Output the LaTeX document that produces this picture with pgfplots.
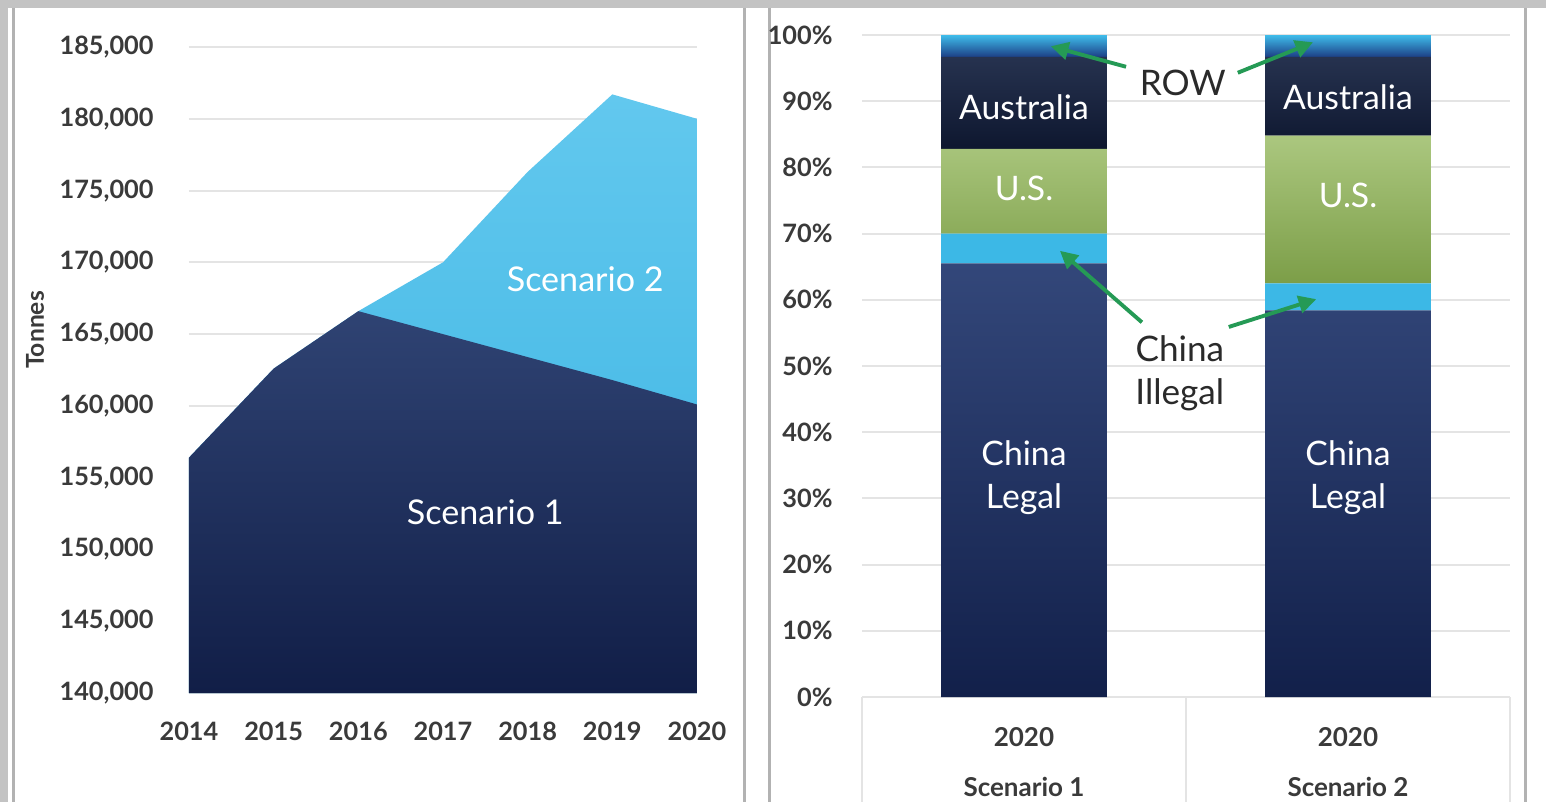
\documentclass[border=0pt]{standalone}
\usepackage{fontspec}
\setmainfont{Lato}
\usepackage{pgfplots}
\pgfplotsset{compat=1.18}
\usetikzlibrary{arrows.meta}

\definecolor{frame}{HTML}{C3C3C3}
\definecolor{edge}{HTML}{B2B2B2}
\definecolor{ticktxt}{HTML}{3A3A3A}
\definecolor{gridc}{HTML}{E4E4E4}
\definecolor{sonetop}{HTML}{2F4373}
\definecolor{sonebot}{HTML}{111E47}
\definecolor{stwotop}{HTML}{62C8EE}
\definecolor{stwobot}{HTML}{3AB3E2}
\definecolor{legaltop}{HTML}{33477A}
\definecolor{legalbot}{HTML}{12204A}
\definecolor{illegal}{HTML}{3CB8E6}
\definecolor{ustop}{HTML}{ABC77F}
\definecolor{usbot}{HTML}{7C9E48}
\definecolor{austop}{HTML}{26324F}
\definecolor{ausbot}{HTML}{0E172F}
\definecolor{rowtop}{HTML}{3FBCEA}
\definecolor{rowmid}{HTML}{2559AA}
\definecolor{rowbot}{HTML}{1C3F86}
\definecolor{arrowc}{HTML}{259A55}
\definecolor{notetxt}{HTML}{2A2A2A}

\begin{document}
\begin{tikzpicture}
% page background and the grey frame round the two panels
\fill[white] (0,0) rectangle (15.46,-8.02);
\fill[frame] (0,0) rectangle (15.46,-0.08);
\fill[frame] (0,0) rectangle (0.08,-8.02);
\foreach \x in {0.135,7.44,7.69,15.25}
  \draw[edge, line width=0.03cm] (\x,-0.08) -- (\x,-8.02);

% left panel: tonnes by scenario
\begin{axis}[at={(1.89cm,-6.93cm)}, anchor=south west, scale only axis,
  width=5.08cm, height=6.46cm,
  xmin=2014, xmax=2020, ymin=140000, ymax=185000,
  xtick={2014,2015,2016,2017,2018,2019,2020},
  ytick={140000,145000,150000,155000,160000,165000,170000,175000,180000,185000},
  scaled y ticks=false,
  /pgf/number format/assume math mode=true,
  xticklabel style={/pgf/number format/1000 sep={}, yshift=-0.17cm},
  yticklabel style={/pgf/number format/fixed, /pgf/number format/1000 sep={,}, xshift=-0.23cm},
  ticklabel style={font=\fontsize{7.2}{8}\selectfont\bfseries, text=ticktxt},
  axis line style={draw=none}, tick style={draw=none},
  ymajorgrids, grid style={gridc, line width=0.6pt},
  clip=false]
\addplot[draw=none, top color=stwotop, bottom color=stwobot] coordinates {
  (2014,140000) (2014,156400) (2015,162600) (2016,166600) (2017,170000)
  (2018,176300) (2019,181700) (2020,180000) (2020,140000)};
\addplot[draw=none, top color=sonetop, bottom color=sonebot] coordinates {
  (2014,140000) (2014,156400) (2015,162600) (2016,166600) (2017,165000)
  (2018,163400) (2019,161800) (2020,160100) (2020,140000)};
\node[white, font=\fontsize{9.7}{11}\selectfont] at (axis cs:2018.68,168800) {Scenario 2};
\node[white, font=\fontsize{9.7}{11}\selectfont] at (axis cs:2017.5,152600) {Scenario 1};
\end{axis}
\node[rotate=90, text=ticktxt, font=\fontsize{7}{8}\selectfont\bfseries] at (0.35,-3.30) {Tonnes};

% right panel: 2020 shares by origin
\begin{axis}[at={(8.62cm,-6.97cm)}, anchor=south west, scale only axis,
  width=6.48cm, height=6.62cm,
  ybar stacked, bar width=0.512,
  xmin=-0.5, xmax=1.5, ymin=0, ymax=100,
  xtick={0,1},
  xticklabels={{2020\\[5.2pt]Scenario 1},{2020\\[5.2pt]Scenario 2}},
  ytick={0,10,20,30,40,50,60,70,80,90,100},
  /pgf/number format/assume math mode=true,
  yticklabel={\pgfmathprintnumber{\tick}\%},
  yticklabel style={xshift=-0.17cm},
  xticklabel style={align=center, yshift=-0.18cm, font=\fontsize{7.4}{9}\selectfont\bfseries},
  ticklabel style={text=ticktxt},
  yticklabel style={font=\fontsize{7.2}{8}\selectfont\bfseries},
  axis line style={draw=none}, tick style={draw=none}, tick pos=left,
  extra x ticks={-0.5,0.5,1.5}, extra x tick labels={},
  extra x tick style={major tick length=1.05cm, tick align=outside,
    tick style={draw=gridc, line width=0.6pt}},
  ymajorgrids, grid style={gridc, line width=0.6pt},
  clip=false]
\addplot[draw=none, top color=legaltop, bottom color=legalbot] coordinates {(0,65.5) (1,58.4)};
\addplot[draw=none, fill=illegal] coordinates {(0,4.5) (1,4.1)};
\addplot[draw=none, top color=ustop, bottom color=usbot] coordinates {(0,12.8) (1,22.3)};
\addplot[draw=none, top color=austop, bottom color=ausbot] coordinates {(0,13.9) (1,11.9)};
\addplot[draw=none, top color=rowtop, middle color=rowmid, bottom color=rowbot] coordinates {(0,3.3) (1,3.3)};

% anchor points for the labels, drawn after the bars
\coordinate (aus1) at (axis cs:0,89.1);
\coordinate (aus2) at (axis cs:1,90.6);
\coordinate (us1) at (axis cs:0,76.9);
\coordinate (us2) at (axis cs:1,75.8);
\coordinate (leg1) at (axis cs:0,33.1);
\coordinate (leg2) at (axis cs:1,33.1);
\coordinate (row) at (axis cs:0.49,92.7);
\coordinate (ill) at (axis cs:0.481,48.9);
\coordinate (a1s) at (axis cs:0.315,95.2);
\coordinate (a1e) at (axis cs:0.083,98.3);
\coordinate (a2s) at (axis cs:0.66,94.3);
\coordinate (a2e) at (axis cs:0.892,98.9);
\coordinate (a3s) at (axis cs:0.364,56.6);
\coordinate (a3e) at (axis cs:0.111,67.4);
\coordinate (a4s) at (axis cs:0.632,55.9);
\coordinate (a4e) at (axis cs:0.902,60.1);
\end{axis}

\begin{scope}[every node/.style={white, align=center, font=\fontsize{9.6}{12.2}\selectfont}]
\node at (aus1) {Australia};
\node at (aus2) {Australia};
\node at (us1) {U.S.};
\node at (us2) {U.S.};
\node at (leg1) {China\\Legal};
\node at (leg2) {China\\Legal};
\end{scope}
\node[text=notetxt, font=\fontsize{10}{12}\selectfont] at (row) {ROW};
\node[text=notetxt, align=center, font=\fontsize{10}{12.2}\selectfont] at (ill) {China\\Illegal};
\begin{scope}[arrowc, line width=1.1pt, -{Triangle[length=5pt,width=5pt]}]
\draw (a1s) -- (a1e);
\draw (a2s) -- (a2e);
\draw (a3s) -- (a3e);
\draw (a4s) -- (a4e);
\end{scope}

\pgfresetboundingbox
\path[use as bounding box] (0,0) rectangle (15.46,-8.02);
\end{tikzpicture}
\end{document}
